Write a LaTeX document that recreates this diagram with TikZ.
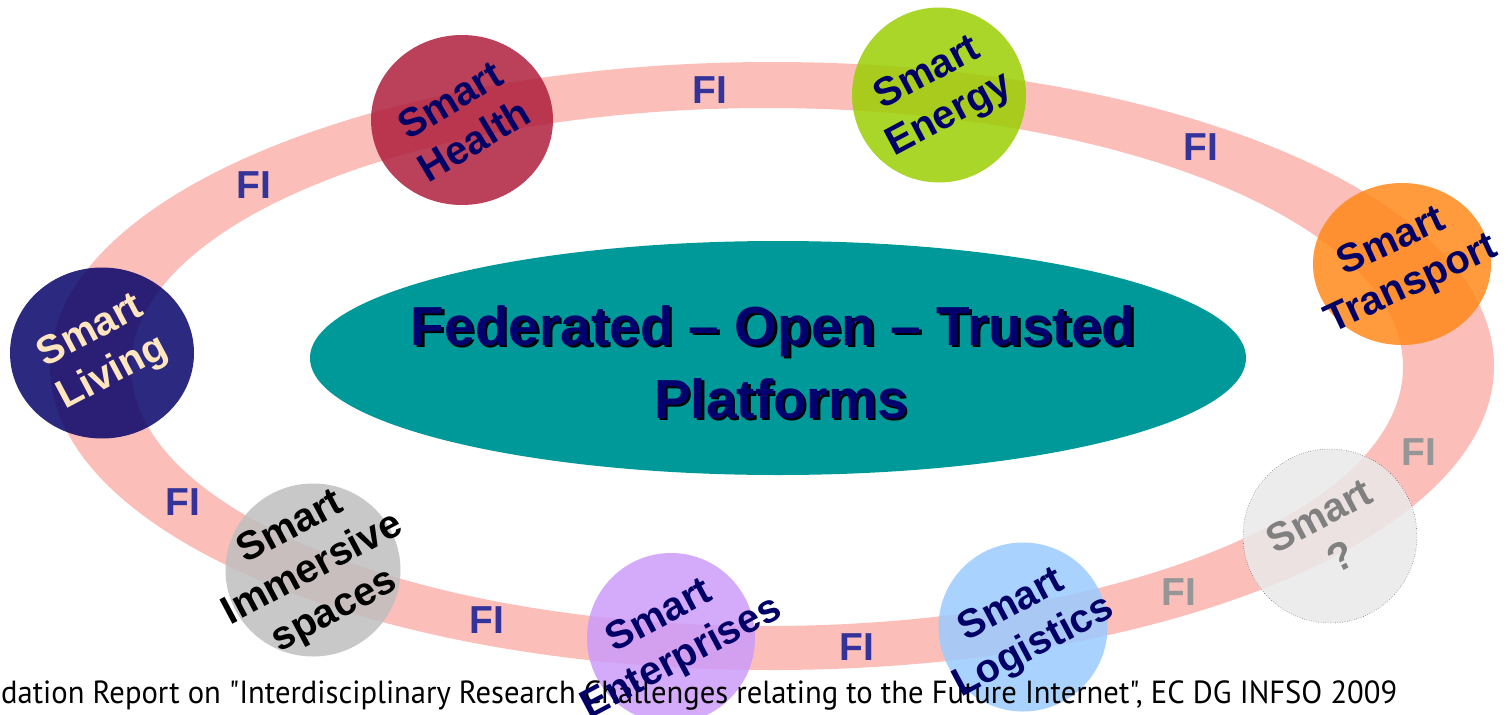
\documentclass[tikz,border=0pt]{standalone}
\usepackage{fontspec}
\usetikzlibrary{shapes.geometric}
\setmainfont{Liberation Sans}
\newfontfamily\footfont{PT Sans}
\definecolor{ringpink}{RGB}{251,190,185}
\definecolor{platformteal}{RGB}{0,153,153}
\definecolor{titlenavy}{RGB}{0,0,110}
\definecolor{smartnavy}{RGB}{0,0,102}
\definecolor{fiblue}{RGB}{51,51,153}
\definecolor{figray}{RGB}{150,150,150}
\definecolor{healthred}{RGB}{175,31,61}
\definecolor{energygreen}{RGB}{155,206,4}
\definecolor{transportorange}{RGB}{255,137,26}
\definecolor{livingblue}{RGB}{6,4,106}
\definecolor{immersivegray}{RGB}{190,190,190}
\definecolor{enterpriselilac}{RGB}{204,155,249}
\definecolor{logisticsblue}{RGB}{155,202,255}
\definecolor{unknowngray}{RGB}{233,233,233}
\definecolor{livingcream}{RGB}{255,230,190}
\begin{document}
\begin{tikzpicture}[x=1pt,y=-1pt,
    smartspot/.style={ellipse, inner sep=0pt, fill opacity=0.85},
    smartlabel/.style={font=\bfseries\fontsize{40}{47}\selectfont, align=center, rotate=28, text=smartnavy},
    filabel/.style={font=\bfseries\fontsize{39}{39}\selectfont, text=fiblue, inner sep=0pt},
    titlefont/.style={font=\bfseries\fontsize{55}{60}\selectfont, anchor=base, inner sep=0pt}]
    \useasboundingbox (0,0) rectangle (1508,715);
    % the ring and the platform
    \fill[ringpink, even odd rule] (772,366) ellipse [x radius=722pt, y radius=304pt]
        (767,367) ellipse [x radius=636pt, y radius=259pt];
    \node[ellipse, fill=platformteal, minimum width=936pt, minimum height=234pt] (platform) at (778,358) {};
    \node[titlefont, text=black] (titletopshadow) at (775.5,347.5) {Federated – Open – Trusted};
    \node[titlefont, text=titlenavy] (titletop) at (773,345) {Federated – Open – Trusted};
    \node[titlefont, text=black] (titlebottomshadow) at (783.5,420.5) {Platforms};
    \node[titlefont, text=titlenavy] (titlebottom) at (781,418) {Platforms};
    % the smart spots
    \node[smartspot, fill=healthred, minimum width=182pt, minimum height=170pt] (health) at (462,120) {};
    \node[smartspot, fill=energygreen, minimum width=174pt, minimum height=175pt] (energy) at (939,95) {};
    \node[smartspot, fill=transportorange, minimum width=178pt, minimum height=162pt] (transport) at (1402,264) {};
    \node[smartspot, fill=livingblue, minimum width=184pt, minimum height=171pt] (living) at (102,353) {};
    \node[smartspot, fill=immersivegray, minimum width=175pt, minimum height=173pt] (immersive) at (313,570) {};
    \node[smartspot, fill=enterpriselilac, minimum width=168pt, minimum height=170pt] (enterprises) at (671,638) {};
    \node[smartspot, fill=logisticsblue, minimum width=169pt, minimum height=169pt] (logistics) at (1023,627) {};
    \node[smartspot, fill=unknowngray, draw=black, dotted, thin, minimum width=174pt, minimum height=174pt] (unknown) at (1330,536) {};
    \node[anchor=base west, inner sep=0pt] (footer) at (1,703)
        {\resizebox{1396pt}{\height}{\footfont\fontsize{32}{34}\selectfont dation Report on "Interdisciplinary Research Challenges relating to the Future Internet", EC DG INFSO 2009}};
    \node[smartlabel, rotate=3] (healthtext) at (health) {Smart\\Health};
    \node[smartlabel] (energytext) at (energy) {Smart\\Energy};
    \node[smartlabel, rotate=-3] (transporttext) at (transport) {Smart\\Transport};
    \node[smartlabel, text=livingcream] (livingtext) at (living) {Smart\\Living};
    \node[smartlabel, text=black] (immersivetext) at (immersive) {Smart\\Immersive\\spaces};
    \node[smartlabel] (enterprisestext) at (enterprises) {Smart\\Enterprises};
    \node[smartlabel] (logisticstext) at (logistics) {Smart\\Logistics};
    \node[smartlabel, text=gray] (unknowntext) at (unknown) {Smart\\?};
    % FI on the ring
    \foreach \px/\py/\fcol [count=\k] in {254/185/fiblue, 710/90/fiblue, 1201/147/fiblue, 1419/452/figray,
            1179/592/figray, 857/647/fiblue, 487/620/fiblue, 183/502/fiblue}
        \node[filabel, text=\fcol] (fi\k) at (\px,\py) {FI};
\end{tikzpicture}
\end{document}
